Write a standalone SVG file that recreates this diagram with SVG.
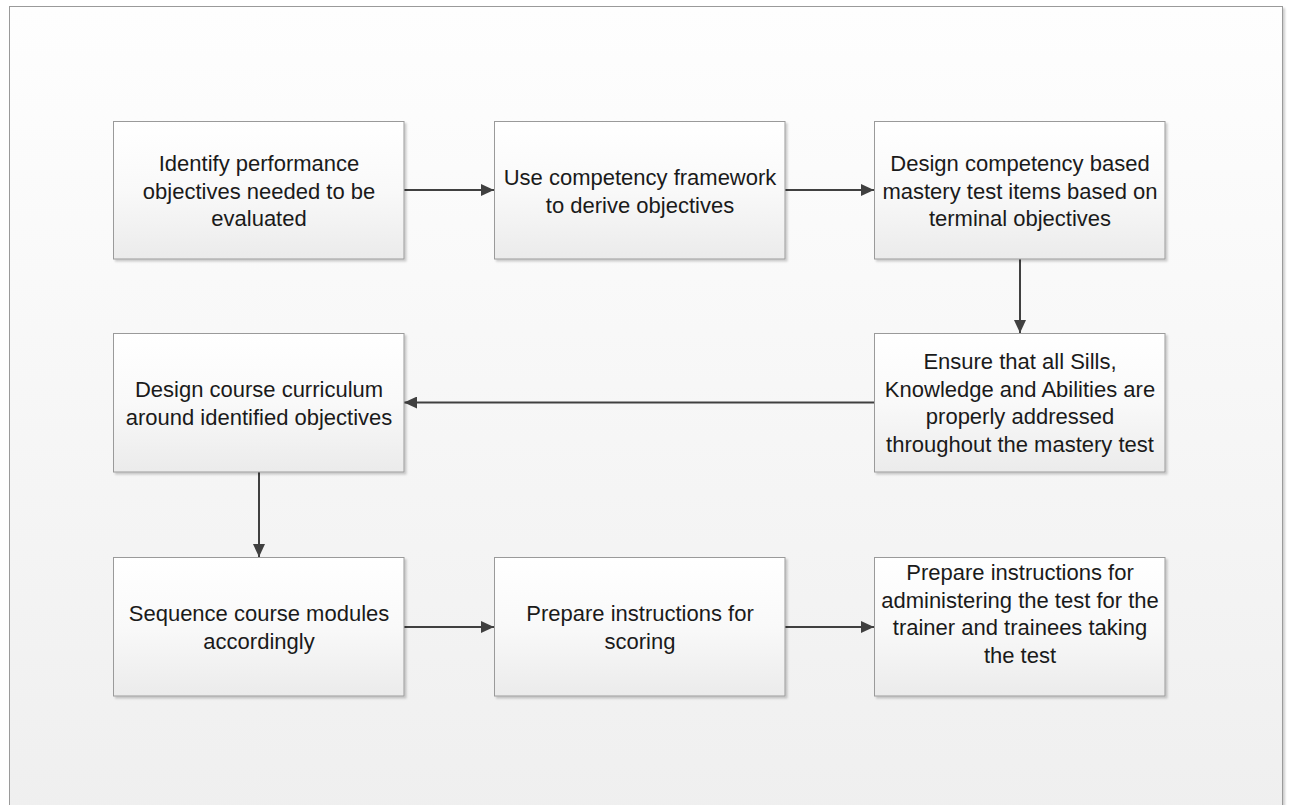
<svg xmlns="http://www.w3.org/2000/svg" width="1291" height="805" viewBox="0 0 1291 805">
<defs>
<linearGradient id="bg" x1="0" y1="0" x2="0" y2="1">
<stop offset="0" stop-color="#fefefe"/>
<stop offset="1" stop-color="#efefef"/>
</linearGradient>
<linearGradient id="box" x1="0" y1="0" x2="0" y2="1">
<stop offset="0" stop-color="#ffffff"/>
<stop offset="0.5" stop-color="#f9f9f9"/>
<stop offset="1" stop-color="#ebebeb"/>
</linearGradient>
<marker id="arr" viewBox="0 0 13 12" refX="13" refY="6" markerWidth="13" markerHeight="12" markerUnits="userSpaceOnUse" orient="auto">
<path d="M0,0 L13,6 L0,12 Z" fill="#404040"/>
</marker>
<filter id="sh" x="-5%" y="-5%" width="115%" height="115%">
<feGaussianBlur in="SourceAlpha" stdDeviation="1"/>
<feOffset dx="2" dy="2" result="o"/>
<feComponentTransfer><feFuncA type="linear" slope="0.2"/></feComponentTransfer>
<feMerge><feMergeNode/><feMergeNode in="SourceGraphic"/></feMerge>
</filter>
</defs>
<style>
.node rect{fill:url(#box);stroke:#9a9a9a;stroke-width:1;filter:url(#sh)}
.node text{font-family:"Liberation Sans",Arial,sans-serif;font-size:22px;fill:#1a1a1a;text-anchor:middle}
.conn line{stroke:#404040;stroke-width:2;marker-end:url(#arr)}
</style>
<rect x="0" y="0" width="1291" height="805" fill="#ffffff"/>
<rect x="9.5" y="6.5" width="1273" height="810" fill="url(#bg)" stroke="#9a9a9a" stroke-width="1" filter="url(#sh)"/>

<g class="conn" id="connectors">
<line x1="404" y1="190" x2="494" y2="190"/>
<line x1="785" y1="190" x2="874" y2="190"/>
<line x1="1020" y1="259" x2="1020" y2="333"/>
<line x1="874" y1="402.5" x2="404" y2="402.5"/>
<line x1="259" y1="472" x2="259" y2="557"/>
<line x1="404" y1="627" x2="494" y2="627"/>
<line x1="785" y1="627" x2="874" y2="627"/>
</g>

<g class="node" id="n1">
<rect x="113.5" y="121.5" width="290.5" height="137.5"/>
<text x="259" y="171">Identify performance</text>
<text x="259" y="198.7">objectives needed to be</text>
<text x="259" y="226.4">evaluated</text>
</g>
<g class="node" id="n2">
<rect x="494.5" y="121.5" width="290.5" height="137.5"/>
<text x="640" y="184.8">Use competency framework</text>
<text x="640" y="212.5">to derive objectives</text>
</g>
<g class="node" id="n3">
<rect x="874.5" y="121.5" width="290.5" height="137.5"/>
<text x="1020" y="171">Design competency based</text>
<text x="1020" y="198.7">mastery test items based on</text>
<text x="1020" y="226.4">terminal objectives</text>
</g>
<g class="node" id="n4">
<rect x="874.5" y="333.5" width="290.5" height="138.5"/>
<text x="1020" y="369">Ensure that all Sills,</text>
<text x="1020" y="396.7">Knowledge and Abilities are</text>
<text x="1020" y="424.4">properly addressed</text>
<text x="1020" y="452.1">throughout the mastery test</text>
</g>
<g class="node" id="n5">
<rect x="113.5" y="333.5" width="290.5" height="138.5"/>
<text x="259" y="397">Design course curriculum</text>
<text x="259" y="424.7">around identified objectives</text>
</g>
<g class="node" id="n6">
<rect x="113.5" y="557.5" width="290.5" height="138.5"/>
<text x="259" y="621">Sequence course modules</text>
<text x="259" y="648.7">accordingly</text>
</g>
<g class="node" id="n7">
<rect x="494.5" y="557.5" width="290.5" height="138.5"/>
<text x="640" y="621">Prepare instructions for</text>
<text x="640" y="648.7">scoring</text>
</g>
<g class="node" id="n8">
<rect x="874.5" y="557.5" width="290.5" height="138.5"/>
<text x="1020" y="580">Prepare instructions for</text>
<text x="1020" y="607.7">administering the test for the</text>
<text x="1020" y="635.4">trainer and trainees taking</text>
<text x="1020" y="663.1">the test</text>
</g>
</svg>
